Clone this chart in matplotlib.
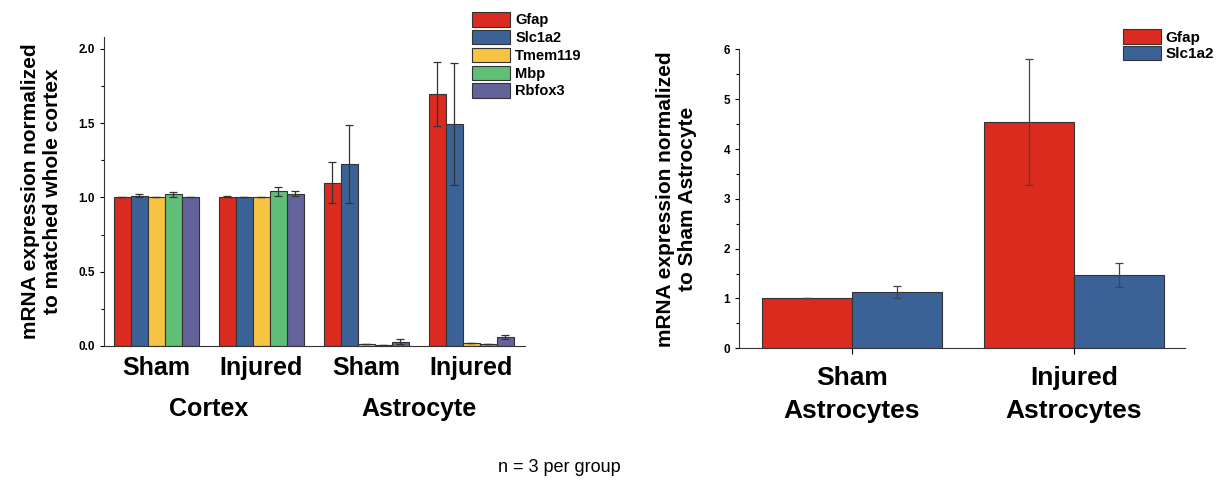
import matplotlib.pyplot as plt
import numpy as np

plt.rcParams['font.family'] = ['Liberation Sans', 'DejaVu Sans']

# left panel data
genes = ['Gfap', 'Slc1a2', 'Tmem119', 'Mbp', 'Rbfox3']
groups = ['Sham', 'Injured', 'Sham', 'Injured']
gfap = [1.0, 1.005, 1.10, 1.695]
slc1a2 = [1.01, 1.0, 1.225, 1.495]
tmem119 = [1.0, 1.0, 0.01, 0.02]
mbp = [1.02, 1.04, 0.005, 0.01]
rbfox3 = [1.0, 1.025, 0.03, 0.06]
gfap_err = [0.0, 0.005, 0.14, 0.215]
slc1a2_err = [0.01, 0.0, 0.26, 0.41]
tmem119_err = [0.0, 0.0, 0.0, 0.003]
mbp_err = [0.015, 0.03, 0.0, 0.0]
rbfox3_err = [0.0, 0.015, 0.015, 0.012]

# right panel data
grupos_ast = ['Sham\nAstrocytes', 'Injured\nAstrocytes']
gfap_ast = [1.0, 4.54]
slc1a2_ast = [1.135, 1.47]
gfap_ast_err = [0.0, 1.26]
slc1a2_ast_err = [0.125, 0.235]

colores = ['#db2b1f', '#3b6296', '#f6c343', '#5fbf76', '#63629b']

fig = plt.figure(figsize=(12.22, 4.82), dpi=100)

# ---- left
ax1 = fig.add_axes([0.0851, 0.2822, 0.3445, 0.641])
x = np.arange(len(groups))
w = 0.162
valores = [gfap, slc1a2, tmem119, mbp, rbfox3]
errores = [gfap_err, slc1a2_err, tmem119_err, mbp_err, rbfox3_err]
for i in range(5):
    ax1.bar(x + (i - 2) * w, valores[i], w, yerr=errores[i], color=colores[i],
            edgecolor='#333333', linewidth=0.8, label=genes[i],
            error_kw=dict(ecolor='#333333', elinewidth=0.9, capsize=3, capthick=0.9))
ax1.set_xlim(-0.5, 3.51)
ax1.set_ylim(0, 2.08)
ax1.set_yticks([0, 0.5, 1.0, 1.5, 2.0])
ax1.set_yticklabels(['0.0', '0.5', '1.0', '1.5', '2.0'], fontsize=8.5, fontweight='bold')
ax1.set_yticks(np.arange(0.25, 2.0, 0.5), minor=True)
ax1.tick_params(axis='y', which='major', length=3, width=0.8)
ax1.tick_params(axis='y', which='minor', length=2, width=0.8)
ax1.set_xticks([])
ax1.spines['top'].set_visible(False)
ax1.spines['right'].set_visible(False)
for s in ['left', 'bottom']:
    ax1.spines[s].set_color('#333333')
for i, g in enumerate(groups):
    ax1.text(x[i], -0.072, g, transform=ax1.get_xaxis_transform(), ha='center', va='center',
             fontsize=18, fontweight='bold')
ax1.text(0.5, -0.205, 'Cortex', transform=ax1.get_xaxis_transform(), ha='center', va='center',
         fontsize=18, fontweight='bold')
ax1.text(2.5, -0.205, 'Astrocyte', transform=ax1.get_xaxis_transform(), ha='center', va='center',
         fontsize=18, fontweight='bold')
ax1.set_ylabel('mRNA expression normalized\nto matched whole cortex', fontsize=15,
               fontweight='bold', labelpad=12)
ax1.legend(loc='upper left', bbox_to_anchor=(0.3805, 0.99), bbox_transform=fig.transFigure,
           frameon=False, prop=dict(weight='bold', size=10.5), handlelength=2.6,
           handleheight=1.15, labelspacing=0.18, handletextpad=0.35, borderpad=0)

# ---- right
ax2 = fig.add_axes([0.6048, 0.2774, 0.3649, 0.62])
x2 = np.arange(len(grupos_ast))
w2 = 0.405
ax2.bar(x2 - w2 / 2, gfap_ast, w2, yerr=gfap_ast_err, color=colores[0], edgecolor='#333333',
        linewidth=0.8, label='Gfap',
        error_kw=dict(ecolor='#444444', elinewidth=0.9, capsize=3, capthick=0.9))
ax2.bar(x2 + w2 / 2, slc1a2_ast, w2, yerr=slc1a2_ast_err, color=colores[1], edgecolor='#333333',
        linewidth=0.8, label='Slc1a2',
        error_kw=dict(ecolor='#444444', elinewidth=0.9, capsize=3, capthick=0.9))
ax2.set_xlim(-0.509, 1.5)
ax2.set_ylim(0, 6)
ax2.set_yticks(range(7))
ax2.set_yticklabels([str(v) for v in range(7)], fontsize=8.5, fontweight='bold')
ax2.set_yticks(np.arange(0.5, 6, 1), minor=True)
ax2.tick_params(axis='y', which='major', length=3, width=0.8)
ax2.tick_params(axis='y', which='minor', length=2, width=0.8)
ax2.set_xticks(x2)
ax2.set_xticklabels(grupos_ast, fontsize=19, fontweight='bold', linespacing=1.45)
ax2.tick_params(axis='x', length=4, width=0.8, pad=9)
ax2.spines['top'].set_visible(False)
ax2.spines['right'].set_visible(False)
for s in ['left', 'bottom']:
    ax2.spines[s].set_color('#333333')
ax2.set_ylabel('mRNA expression normalized\nto Sham Astrocyte', fontsize=15,
               fontweight='bold', labelpad=19)
ax2.legend(loc='upper left', bbox_to_anchor=(0.9125, 0.955), bbox_transform=fig.transFigure,
           frameon=False, prop=dict(weight='bold', size=11), handlelength=2.5,
           handleheight=1.1, labelspacing=0.05, handletextpad=0.3, borderpad=0)

fig.text(0.458, 0.031, 'n = 3 per group', ha='center', va='center', fontsize=13)

plt.savefig('out.png', dpi=100)
